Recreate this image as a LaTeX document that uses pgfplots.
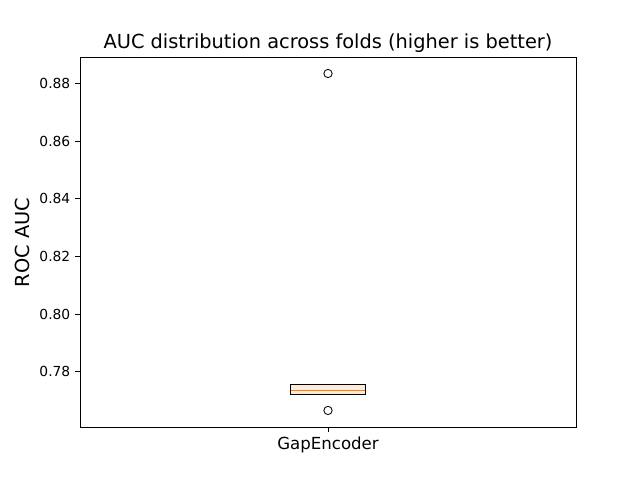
\documentclass[border=0pt]{standalone}
\usepackage{pgfplots}
\pgfplotsset{compat=1.18}
\usepgfplotslibrary{statistics}
\usepackage{fontspec}
\setmainfont{DejaVu Sans}
\definecolor{mplorange}{HTML}{FF7F0E}
\definecolor{boxfill}{HTML}{FDEBD9}
\begin{document}
\begin{tikzpicture}
\path (0,0) rectangle (6.4in,4.8in);
\begin{axis}[
  at={(0.8in,0.528in)}, anchor=south west,
  scale only axis,
  width=4.96in, height=3.696in,
  xmin=0.5, xmax=1.5,
  ymin=0.76074, ymax=0.88897,
  xtick={1}, xticklabels={GapEncoder},
  ytick={0.78,0.80,0.82,0.84,0.86,0.88},
  yticklabel style={font=\fontsize{10}{12}\selectfont, /pgf/number format/fixed, /pgf/number format/fixed zerofill, /pgf/number format/precision=2, /pgf/number format/assume math mode=true},
  xticklabel style={font=\fontsize{12}{14}\selectfont},
  tick align=outside,
  major tick length=3.5pt,
  xtick pos=bottom, ytick pos=left,
  tick style={black, line width=0.6pt},
  axis line style={line width=0.6pt},
  title={AUC distribution across folds (higher is better)},
  title style={font=\fontsize{14}{16}\selectfont, at={(0.5,1)}, anchor=south, yshift=-6pt},
  ylabel={ROC AUC},
  ylabel style={font=\fontsize{14}{16}\selectfont},
  boxplot/draw direction=y,
]
\addplot+[
  draw=black, line width=0.6pt, fill=boxfill, solid,
  mark=o, mark size=3pt, mark options={draw=black, fill=none, line width=0.6pt},
  boxplot prepared={
    draw position=1,
    lower whisker=0.77224,
    lower quartile=0.77224,
    median=0.77362,
    upper quartile=0.77552,
    upper whisker=0.77552,
    box extend=0.15,
    whisker extend=0.075,
    every median/.style={draw=mplorange, line width=0.8pt},
  },
] coordinates {(0,0.88345) (0,0.76655)};
\end{axis}
\end{tikzpicture}
\end{document}
